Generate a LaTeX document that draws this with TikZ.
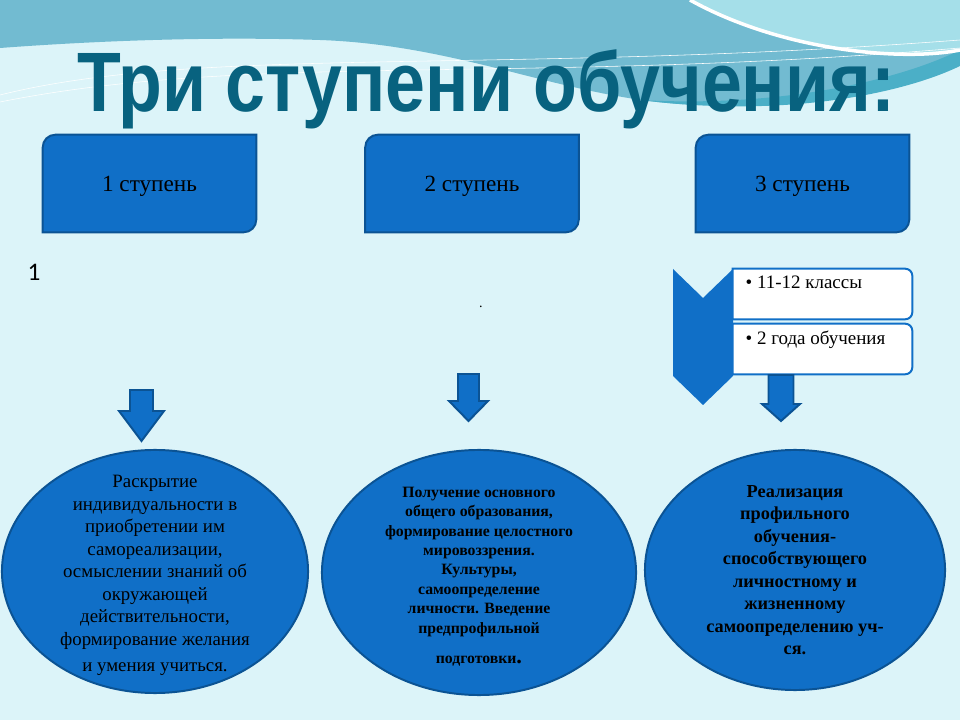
\documentclass[tikz,border=0pt]{standalone}
\usepackage{fontspec}
\setmainfont{Liberation Serif}
\newfontfamily\headfont{Liberation Sans}
\newfontfamily\numfont{Carlito}
\usetikzlibrary{shapes.geometric}
\definecolor{sky}{HTML}{DCF4F9}
\definecolor{wave}{HTML}{72BBD1}
\definecolor{aqua}{HTML}{A5DFE9}
\definecolor{teal}{HTML}{4BAFC7}
\definecolor{headcol}{HTML}{08627F}
\definecolor{stageblue}{HTML}{106FC7}
\definecolor{stageline}{HTML}{0B5394}
\tikzset{
  stage/.style={minimum width=5.325cm, minimum height=2.425cm, inner sep=0pt},
  stageline/.style={fill=stageblue, draw=stageline, line width=1.4pt},
  itembox/.style={minimum width=4.475cm, minimum height=1.25cm, inner sep=0pt},
  itemline/.style={fill=white, draw=stageblue, line width=1.4pt},
  goal/.style={ellipse, fill=stageblue, draw=stageline, line width=1.4pt, inner sep=0pt},
  blockarrow/.style={fill=stageblue, draw=stageline, line width=1.4pt, line join=miter},
  item/.style={anchor=north west, inner sep=0pt, font=\rmfamily\fontsize{13.5}{15}\selectfont}
}
\begin{document}
\begin{tikzpicture}[x=0.025cm, y=-0.025cm]
  \fill[sky] (0,0) rectangle (960,720);
  \useasboundingbox (0,0) rectangle (960,720);
  % waves at the top
  \fill[aqua] (690,0) -- (960,0) -- (960,50) .. controls (900,62) and (780,50) .. (690,0);
  \fill[wave] (0,0) -- (690,0) .. controls (780,50) and (900,62) .. (960,50) -- (960,62) .. controls (880,90) and (760,108) .. (680,104) .. controls (560,96) and (460,45) .. (320,40) .. controls (200,36) and (80,42) .. (0,48) -- cycle;
  \fill[teal] (640,100) .. controls (780,108) and (900,80) .. (960,50) -- (960,66) .. controls (900,95) and (780,118) .. (640,100);
  \draw[white, line width=2.5pt] (690,0) .. controls (780,50) and (900,62) .. (960,50);
  \draw[white, thin] (0,95) .. controls (200,45) and (500,75) .. (960,40);
  \draw[white, thin] (0,102) .. controls (250,52) and (520,85) .. (960,48);
  % title
  \node[anchor=base, text=headcol, inner sep=0pt] (head) at (486,112)
    {\scalebox{0.85}[1]{\headfont\bfseries\fontsize{60}{60}\selectfont Три ступени обучения:}};
  % stages
  \node[stage] (s1) at (149.5,183.5) {};
  \node[stage] (s2) at (472,183.5) {};
  \node[stage] (s3) at (802.5,183.5) {};
  \foreach \s in {s1,s2,s3}
    \draw[stageline] (\s.south west) -- ([yshift=-9pt]\s.north west) arc[start angle=180, end angle=90, radius=9pt]
      -- (\s.north east) -- ([yshift=9pt]\s.south east) arc[start angle=0, end angle=-90, radius=9pt] -- cycle;
  \node[font=\rmfamily\fontsize{16.5}{18}\selectfont] (l1) at ([yshift=-2pt]s1) {1 ступень};
  \node[font=\rmfamily\fontsize{16.5}{18}\selectfont] (l2) at ([yshift=-2pt]s2) {2 ступень};
  \node[font=\rmfamily\fontsize{16.5}{18}\selectfont] (l3) at ([yshift=-2pt]s3) {3 ступень};
  \node[font=\numfont\fontsize{18}{18}\selectfont] (one) at (34,272) {1};
  \node[inner sep=0pt] (dot) at (481,307) {.};
  % third stage details
  \fill[stageblue] (673,269) -- (703,298) -- (733,269) -- (733,376) -- (703,405) -- (673,376) -- cycle;
  \node[itembox] (b1) at (822.5,294) {};
  \node[itembox] (b2) at (822.5,349) {};
  \foreach \b in {b1,b2}
    \draw[itemline] (\b.south west) -- (\b.north west) -- ([xshift=-5pt]\b.north east) arc[start angle=90, end angle=0, radius=5pt]
      -- ([yshift=5pt]\b.south east) arc[start angle=0, end angle=-90, radius=5pt] -- cycle;
  \node[item] (i1) at ([xshift=9pt, yshift=-5pt]b1.north west) {\textbullet\ 11-12 классы};
  \node[item] (i2) at ([xshift=9pt, yshift=-5pt]b2.north west) {\textbullet\ 2 года обучения};
  % arrows down
  \foreach \x/\t/\n/\p/\w/\h in {141.5/390/411/441/11.5/22.5, 468.5/374/401/421/10.5/19.5, 781/375/404/421/12.5/19}
    \draw[blockarrow] (\x-\w,\t) -- (\x+\w,\t) -- (\x+\w,\n) -- (\x+\h,\n) -- (\x,\p) -- (\x-\h,\n) -- (\x-\w,\n) -- cycle;
  % goals
  \node[goal, minimum width=7.65cm, minimum height=6.075cm] (e1) at (155,571.5) {};
  \node[goal, minimum width=7.85cm, minimum height=6.125cm] (e2) at (479,572.5) {};
  \node[goal, minimum width=7.5cm, minimum height=6cm] (e3) at (795,570) {};
  \node[align=center, font=\rmfamily\fontsize{13.4}{16}\selectfont] (g1) at ([yshift=-3pt]e1.center)
    {Раскрытие\\индивидуальности в\\приобретении им\\самореализации,\\осмыслении знаний об\\окружающей\\действительности,\\формирование желания\\[3pt]и умения учиться.};
  \node[align=center, font=\rmfamily\bfseries\fontsize{11.2}{13.8}\selectfont] (g2) at ([yshift=-3pt]e2.center)
    {Получение основного\\общего образования,\\формирование целостного\\мировоззрения.\\Культуры,\\самоопределение\\личности. Введение\\предпрофильной\\[8pt]подготовки{\fontsize{16}{16}\selectfont.}};
  \node[align=center, font=\rmfamily\bfseries\fontsize{13}{16}\selectfont] (g3) at (e3.center)
    {Реализация\\профильного\\обучения-\\способствующего\\личностному и\\жизненному\\самоопределению уч-\\ся.};
\end{tikzpicture}
\end{document}
